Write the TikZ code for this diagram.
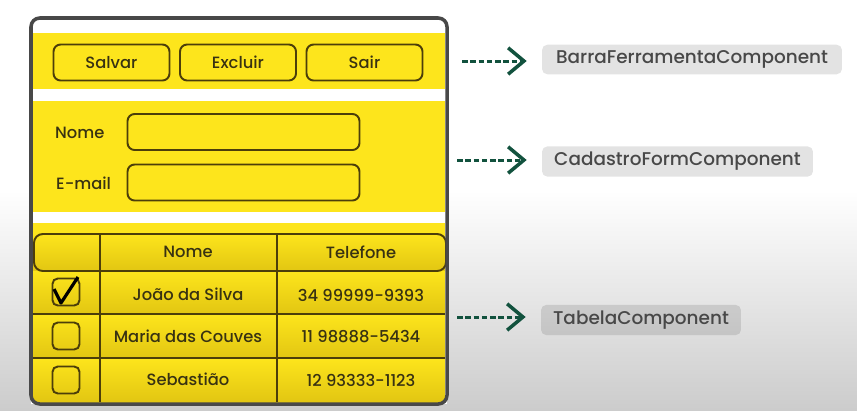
\documentclass[tikz,border=0pt]{standalone}
\usepackage{fontspec}
\setmainfont{Poppins}[UprightFont={* Medium}]
\usetikzlibrary{arrows.meta}

\definecolor{amarelo}{RGB}{253,229,28}
\definecolor{amareloesc}{RGB}{226,198,18}
\definecolor{contorno}{RGB}{76,62,10}
\definecolor{moldura}{RGB}{72,72,72}
\definecolor{verdeseta}{RGB}{18,82,62}
\definecolor{textoesc}{RGB}{56,50,18}
\definecolor{textocomp}{RGB}{72,72,72}

\begin{document}
\begin{tikzpicture}[
        x=0.02cm, y=-0.02cm,
        font=\fontsize{9.3}{11}\selectfont,
        botao/.style={draw=contorno, line width=1.1pt, rounded corners=4pt,
                      minimum width=2.32cm, minimum height=0.72cm, text=textoesc},
        campo/.style={draw=contorno, line width=1.1pt, rounded corners=4pt,
                      minimum width=4.64cm, minimum height=0.72cm},
        rotulo/.style={anchor=west, text=textoesc},
        celula/.style={text=textoesc},
        caixa/.style={draw=contorno, line width=1.1pt, rounded corners=3pt,
                      minimum size=0.54cm},
        comp/.style={fill=black, fill opacity=0.11, text opacity=1, text=textocomp,
                     rounded corners=3pt, minimum height=0.58cm,
                     font=\fontsize{10.5}{12}\selectfont},
        seta/.style={-{Straight Barb[length=9pt, width=15pt, line width=2pt]},
                     verdeseta, line width=1.7pt, dash pattern=on 3.2pt off 1.5pt,
                     shorten >=0.3cm}
      ]
        \useasboundingbox (0,0) rectangle (857,410);
        % fundo
        \fill[white] (0,0) rectangle (857,410);
        \shade[top color=white, bottom color=black!20] (0,190) rectangle (857,410);

        % tela
        \fill[white] (31,18) rectangle (447,404);
        \fill[amarelo] (33,33) rectangle (445,89);
        \fill[amarelo] (33,101) rectangle (445,212);
        \fill[amarelo] (33,223) rectangle (445,402);

        \node[botao] (salvar)  at (111.5,62.5) {Salvar};
        \node[botao] (excluir) at (238,62.5)   {Excluir};
        \node[botao] (sair)    at (364.5,62.5) {Sair};

        \node[rotulo] (lblnome)  at (49,133) {Nome};
        \node[rotulo] (lblemail) at (50,183) {E-mail};
        \node[campo] (campnome)  at (243.5,132) {};
        \node[campo] (campemail) at (243.5,182.5) {};

        % tabela
        \foreach \ya/\yb in {234/271, 271/314, 314/358, 358/402}
          \shade[top color=amarelo, bottom color=amareloesc] (33,\ya) rectangle (445,\yb);
        \draw[contorno, line width=1.1pt, rounded corners=5pt] (34,234) rectangle (446,271);
        \foreach \yl in {314, 358}
          \draw[contorno, line width=1.1pt] (33,\yl) -- (445,\yl);
        \foreach \xl in {100, 277}
          \draw[contorno, line width=1.1pt] (\xl,234) -- (\xl,402);

        \node[celula] (cabnome) at (188,252) {Nome};
        \node[celula] (cabtel)  at (361,252) {Telefone};
        \node[celula] (nome1) at (188,294) {João da Silva};
        \node[celula] (tel1)  at (361,295) {34 99999-9393};
        \node[celula] (nome2) at (188,336) {Maria das Couves};
        \node[celula] (tel2)  at (361,337) {11 98888-5434};
        \node[celula] (nome3) at (188,379) {Sebastião};
        \node[celula] (tel3)  at (361,380) {12 93333-1123};

        \node[caixa] (chk1) at (66,292) {};
        \node[caixa] (chk2) at (66,336) {};
        \node[caixa] (chk3) at (66,380) {};
        \draw[black, line width=1.8pt, line join=round]
          ([shift={(-12,-3)}]chk1.center) -- ([shift={(-5,11)}]chk1.center)
          -- ([shift={(12,-15)}]chk1.center);

        \draw[moldura, line width=2pt, rounded corners=5pt] (31,18) rectangle (447,404);

        % componentes
        \node[comp, minimum width=6cm]    (barra)    at (692,59.5)  {BarraFerramentaComponent};
        \node[comp, minimum width=5.42cm] (cadastro) at (677.5,161.5) {CadastroFormComponent};
        \node[comp, minimum width=4cm]    (tabela)   at (641,320)   {TabelaComponent};

        \coordinate (s1) at (462,61);
        \coordinate (s2) at (457,160);
        \coordinate (s3) at (457,317);
        \draw[seta] (s1) -- (s1 -| barra.west);
        \draw[seta] (s2) -- (s2 -| cadastro.west);
        \draw[seta] (s3) -- (s3 -| tabela.west);
      \end{tikzpicture}
\end{document}
